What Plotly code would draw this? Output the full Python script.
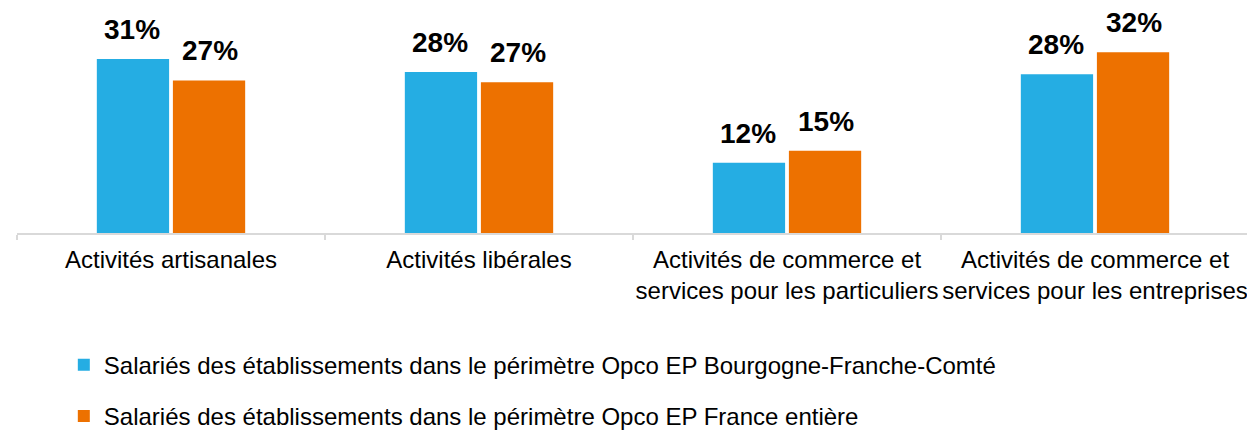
import plotly.graph_objects as go

categories = [
    "Activités artisanales",
    "Activités libérales",
    "Activités de commerce et<br>services pour les particuliers",
    "Activités de commerce et<br>services pour les entreprises",
]
series_names = [
    "Salariés des établissements dans le périmètre Opco EP Bourgogne-Franche-Comté",
    "Salariés des établissements dans le périmètre Opco EP France entière",
]
bfc_values = [30.9, 28.6, 12.5, 28.2]
france_values = [27.1, 26.8, 14.6, 32.1]
bfc_labels = ["31%", "28%", "12%", "28%"]
france_labels = ["27%", "27%", "15%", "32%"]

colors = ["#25ADE3", "#ED7100"]
FONT = "Liberation Sans, Arial, sans-serif"

fig = go.Figure()
for i, (name, vals) in enumerate([(series_names[0], bfc_values), (series_names[1], france_values)]):
    fig.add_trace(go.Bar(
        x=categories, y=vals, name=name,
        marker=dict(color=colors[i], line=dict(width=0)),
        legendgroup=f"g{i}",
        hoverinfo="skip",
    ))

annotations = []
for labels, vals, shift in [(bfc_labels, bfc_values, -39), (france_labels, france_values, 39)]:
    for c, v, t in zip(categories, vals, labels):
        annotations.append(dict(
            x=c, y=v, text=f"<b>{t}</b>", showarrow=False,
            xref="x", yref="y", xshift=shift, yanchor="bottom", yshift=12,
            font=dict(family=FONT, size=28, color="#000000"),
        ))

fig.update_layout(
    width=1247, height=423,
    margin=dict(l=9, r=6, t=1, b=198),
    paper_bgcolor="white", plot_bgcolor="white",
    barmode="group", bargap=0.506, bargroupgap=0.05,
    font=dict(family=FONT, size=24, color="#000000"),
    xaxis=dict(
        showline=True, linecolor="#d9d9d9", linewidth=2,
        ticks="outside", tickson="boundaries", ticklen=5, tickcolor="#d9d9d9", tickwidth=2,
        tickfont=dict(family=FONT, size=24, color="#000000"),
        tickangle=0, automargin=False, ticklabelstandoff=4,
        showgrid=False, zeroline=False,
    ),
    yaxis=dict(range=[0, 39.8], visible=False, showgrid=False, zeroline=False),
    legend=dict(
        orientation="v", x=0.038, xanchor="left",
        yref="container", y=0.209, yanchor="top",
        font=dict(family=FONT, size=24, color="#000000"),
        tracegroupgap=17, traceorder="grouped",
        bgcolor="rgba(0,0,0,0)",
    ),
    annotations=annotations,
    showlegend=True,
)

fig.write_html("out.html")
